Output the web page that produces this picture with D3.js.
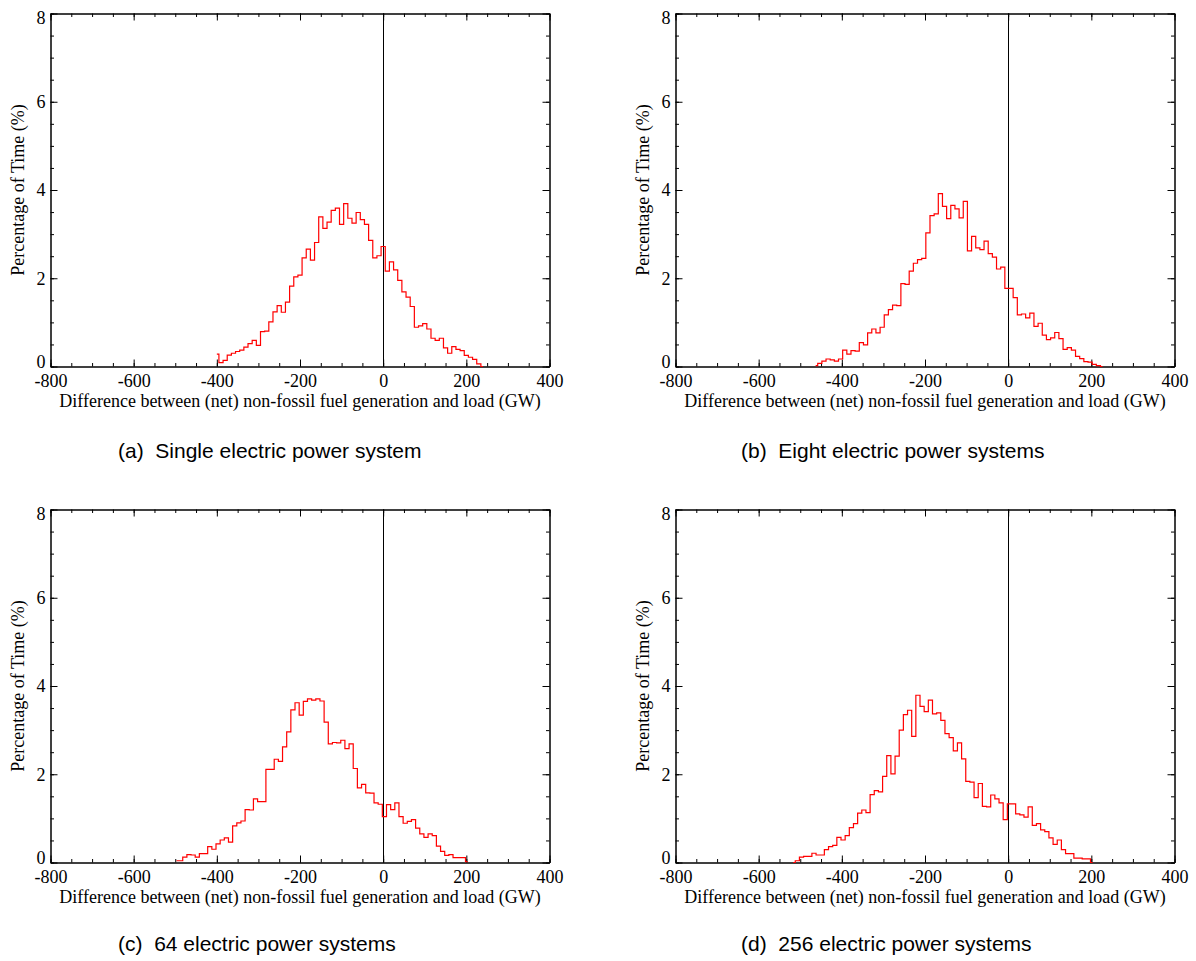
<!DOCTYPE html>
<html>
<head>
<meta charset="utf-8">
<script src="https://cdn.jsdelivr.net/npm/d3@7"></script>
<style>
  body { margin: 0; background: #fff; }
  svg { display: block; }
</style>
</head>
<body>
<svg id="chart" width="1196" height="961"></svg>
<script>
// ---------------- data ----------------
const xDomain = [-800, 400];
const yDomain = [0, 8];
const xTickValues = [-800, -600, -400, -200, 0, 200, 400];
const yTickValues = [0, 2, 4, 6, 8];
const xAxisTitle = "Difference between (net) non-fossil fuel generation and load (GW)";
const yAxisTitle = "Percentage of Time (%)";
const captions = [
  "(a)  Single electric power system",
  "(b)  Eight electric power systems",
  "(c)  64 electric power systems",
  "(d)  256 electric power systems"
];
const binWidth = 10; // GW

// (a) single system: first bin centre -400 GW
const aStart = -400;
const aValues = [0.28,0.09,0.14,0.26,0.30,0.34,0.37,0.44,0.52,0.59,0.48,0.79,0.80,1.01,1.24,1.38,1.23,1.46,1.82,2.03,
  2.07,2.46,2.66,2.41,2.81,3.39,3.13,3.27,3.54,3.59,3.22,3.69,3.36,3.25,3.49,3.33,3.22,2.86,2.46,2.51,
  2.72,2.16,2.37,2.19,1.95,1.69,1.57,1.36,0.89,0.92,0.97,0.85,0.64,0.59,0.64,0.42,0.30,0.45,0.39,0.36,
  0.25,0.21,0.16,0.06,0.0];

// (b) eight systems: first bin centre -463 GW
const bStart = -463;
const bValues = [0.02,0.07,0.12,0.17,0.15,0.12,0.17,0.37,0.28,0.36,0.35,0.54,0.49,0.76,0.85,0.76,0.89,1.17,1.29,1.39,
  1.38,1.88,1.86,2.16,2.34,2.42,2.45,3.03,3.42,3.46,3.92,3.63,3.35,3.65,3.57,3.37,3.74,2.62,2.95,2.69,
  2.65,2.84,2.56,2.48,2.21,2.25,1.77,1.77,1.56,1.17,1.19,1.10,1.21,0.91,0.98,0.71,0.61,0.65,0.77,0.63,
  0.39,0.43,0.37,0.23,0.18,0.11,0.10,0.05,0.02,0.0];

// (c) 64 systems: first bin centre -497 GW
const cStart = -497;
const cValues = [0.04,0.04,0.12,0.18,0.17,0.12,0.20,0.20,0.36,0.30,0.42,0.51,0.56,0.46,0.83,0.90,0.94,1.20,1.19,1.44,
  1.38,1.38,2.11,2.11,2.34,2.29,2.62,2.96,3.46,3.62,3.34,3.65,3.71,3.68,3.71,3.66,3.18,2.69,2.72,2.71,
  2.77,2.58,2.69,2.13,1.69,1.77,1.58,1.57,1.35,1.32,1.04,1.31,1.20,1.35,1.04,0.89,0.93,0.97,0.78,0.65,
  0.57,0.65,0.61,0.37,0.25,0.16,0.18,0.11,0.11,0.11,0.02];

// (d) 256 systems: first bin centre -517 GW
const dStart = -517;
const dValues = [0.0,0.04,0.12,0.14,0.14,0.21,0.17,0.17,0.29,0.36,0.39,0.57,0.51,0.61,0.79,0.88,1.12,1.19,1.13,1.54,
  1.63,1.60,1.95,2.42,2.01,2.41,3.00,3.35,3.45,2.86,3.79,3.54,3.42,3.68,3.37,3.39,3.22,2.92,2.83,2.53,
  2.71,2.35,1.84,1.82,1.47,1.79,1.27,1.26,1.53,1.44,1.35,0.97,1.33,1.33,1.10,1.08,1.03,1.26,0.84,0.88,
  0.74,0.70,0.56,0.41,0.51,0.29,0.20,0.20,0.10,0.10,0.08,0.08,0.0];

// ---------------- layout ----------------
const W = 499, H = 353;
const layout = [
  { left: 50.5,  top: 13.5, start: aStart, values: aValues, cap: captions[0], capX: 118, capY: 458 },
  { left: 675.5, top: 13.5, start: bStart, values: bValues, cap: captions[1], capX: 741, capY: 458 },
  { left: 50.5,  top: 509.5, start: cStart, values: cValues, cap: captions[2], capX: 118, capY: 951 },
  { left: 675.5, top: 509.5, start: dStart, values: dValues, cap: captions[3], capX: 741, capY: 951 }
];

const svg = d3.select("#chart");
const serif = "'Liberation Serif','Times New Roman',Times,serif";
const sans = "'Liberation Sans',Arial,Helvetica,sans-serif";
const fs = 18;

const x = d3.scaleLinear().domain(xDomain).range([0, W]);
const y = d3.scaleLinear().domain(yDomain).range([H, 0]);

const lineGen = d3.line()
  .x(d => x(d[0]))
  .y(d => y(d[1]))
  .curve(d3.curveStep);

layout.forEach(p => {
  const g = svg.append("g").attr("transform", `translate(${p.left},${p.top})`);

  const styleAxis = sel => {
    sel.select(".domain").attr("stroke", "#000").attr("stroke-width", 1);
    sel.selectAll(".tick line").attr("stroke", "#000").attr("stroke-width", 1);
    sel.selectAll("text").attr("font-family", serif).attr("font-size", fs).attr("fill", "#000");
  };

  // minor ticks
  const xMinor = x.ticks(24);
  const yMinor = y.ticks(16);
  g.append("g").attr("transform", `translate(0,${H})`)
    .call(d3.axisBottom(x).tickValues(xMinor).tickSize(-3.5).tickSizeOuter(0).tickFormat(""))
    .call(styleAxis);
  g.append("g")
    .call(d3.axisTop(x).tickValues(xMinor).tickSize(-3.5).tickSizeOuter(0).tickFormat(""))
    .call(styleAxis);
  g.append("g")
    .call(d3.axisLeft(y).tickValues(yMinor).tickSize(-3.5).tickSizeOuter(0).tickFormat(""))
    .call(styleAxis);
  g.append("g").attr("transform", `translate(${W},0)`)
    .call(d3.axisRight(y).tickValues(yMinor).tickSize(-3.5).tickSizeOuter(0).tickFormat(""))
    .call(styleAxis);

  // major ticks
  g.append("g").attr("transform", `translate(0,${H})`)
    .call(d3.axisBottom(x).tickValues(xTickValues).tickSize(-7).tickSizeOuter(0)
      .tickPadding(8).tickFormat(d => String(d)))
    .call(styleAxis);
  g.append("g")
    .call(d3.axisTop(x).tickValues(xTickValues).tickSize(-7).tickSizeOuter(0).tickFormat(""))
    .call(styleAxis);
  const yl = g.append("g")
    .call(d3.axisLeft(y).tickValues(yTickValues).tickSize(-7).tickSizeOuter(0)
      .tickPadding(5).tickFormat(d => String(d)))
    .call(styleAxis);
  // IDL-style: end labels nudged inside the box
  yl.selectAll(".tick text").attr("dy", d => d === yDomain[1] ? "0.58em" : d === yDomain[0] ? "0.06em" : "0.32em");
  g.append("g").attr("transform", `translate(${W},0)`)
    .call(d3.axisRight(y).tickValues(yTickValues).tickSize(-7).tickSizeOuter(0).tickFormat(""))
    .call(styleAxis);

  // zero line
  g.append("line")
    .attr("x1", Math.round(x(0))).attr("x2", Math.round(x(0)))
    .attr("y1", 0).attr("y2", H)
    .attr("stroke", "#000").attr("stroke-width", 1);

  // histogram (step line)
  const pts = p.values.map((v, i) => [p.start + i * binWidth, v]);
  g.append("path")
    .datum(pts)
    .attr("d", lineGen)
    .attr("fill", "none")
    .attr("stroke", "#ff0000")
    .attr("stroke-width", 1.2);

  // axis titles
  g.append("text")
    .attr("x", W / 2).attr("y", H + 40)
    .attr("text-anchor", "middle")
    .attr("font-family", serif).attr("font-size", fs)
    .text(xAxisTitle);
  g.append("text")
    .attr("transform", `translate(${-27},${H / 2}) rotate(-90)`)
    .attr("text-anchor", "middle")
    .attr("font-family", serif).attr("font-size", fs)
    .text(yAxisTitle);

  // caption
  svg.append("text")
    .attr("x", p.capX).attr("y", p.capY)
    .attr("font-family", sans).attr("font-size", 21)
    .attr("fill", "#000")
    .attr("xml:space", "preserve")
    .style("white-space", "pre")
    .text(p.cap);
});
</script>
</body>
</html>
